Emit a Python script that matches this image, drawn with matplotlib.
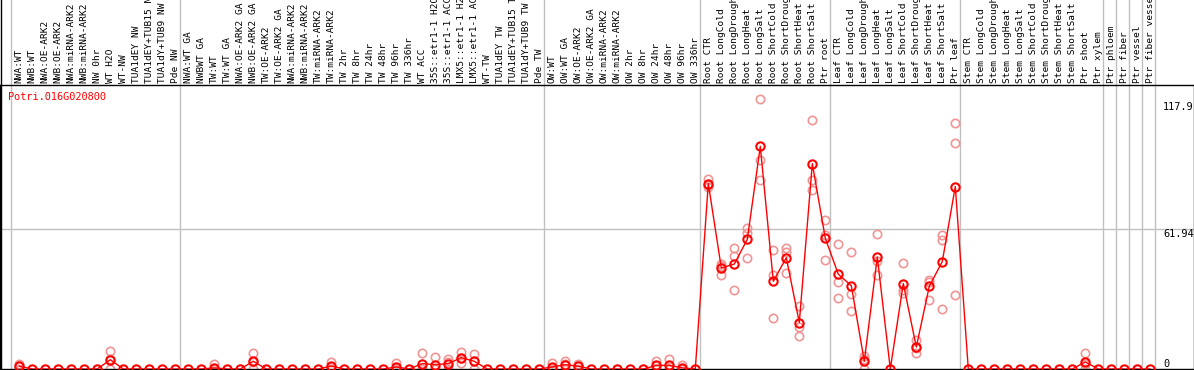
import matplotlib
matplotlib.use("Agg")
import matplotlib.pyplot as plt
import matplotlib.transforms as mtransforms

# sample labels (in plot order)
labels = [
    "NWA:WT", "NWB:WT", "NWA:OE-ARK2", "NWB:OE-ARK2", "NWA:miRNA-ARK2", "NWB:miRNA-ARK2",
    "NW 0hr", "WT H2O", "WT-NW", "TUA1dEY NW", "TUA1dEY+TUB15 NW", "TUA1dY+TUB9 NW", "Pde NW",
    "NWA:WT GA", "NWBWT GA", "TW:WT", "TW:WT GA", "NWA:OE-ARK2 GA", "NWB:OE-ARK2 GA",
    "TW:OE-ARK2", "TW:OE-ARK2 GA", "NWA:miRNA-ARK2", "NWB:miRNA-ARK2", "TW:miRNA-ARK2",
    "TW:miRNA-ARK2", "TW 2hr", "TW 8hr", "TW 24hr", "TW 48hr", "TW 96hr", "TW 336hr",
    "WT ACC", "35S::etr1-1 H2O", "35S::etr1-1 ACC", "LMX5::etr1-1 H2O", "LMX5::etr1-1 ACC",
    "WT-TW", "TUA1dEY TW", "TUA1dEY+TUB15 TW", "TUA1dY+TUB9 TW", "Pde TW",
    "OW:WT", "OW:WT GA", "OW:OE-ARK2", "OW:OE-ARK2 GA", "OW:miRNA-ARK2", "OW:miRNA-ARK2",
    "OW 2hr", "OW 8hr", "OW 24hr", "OW 48hr", "OW 96hr", "OW 336hr",
    "Root CTR", "Root LongCold", "Root LongDrought", "Root LongHeat", "Root LongSalt",
    "Root ShortCold", "Root ShortDrought", "Root ShortHeat", "Root ShortSalt", "Ptr root",
    "Leaf CTR", "Leaf LongCold", "Leaf LongDrought", "Leaf LongHeat", "Leaf LongSalt",
    "Leaf ShortCold", "Leaf ShortDrought", "Leaf ShortHeat", "Leaf ShortSalt", "Ptr leaf",
    "Stem CTR", "Stem LongCold", "Stem LongDrought", "Stem LongHeat", "Stem LongSalt",
    "Stem ShortCold", "Stem ShortDrought", "Stem ShortHeat", "Stem ShortSalt", "Ptr shoot",
    "Ptr xylem", "Ptr phloem", "Ptr fiber", "Ptr vessel", "Ptr fiber vessel",
]

# mean expression per sample
means = [
    1.2, 0, 0, 0, 0, 0, 0, 4.1, 0, 0, 0, 0, 0,
    0, 0, 0.5, 0, 0, 3.4, 0, 0, 0, 0, 0, 1.3, 0, 0, 0, 0, 0.9, 0,
    2.4, 1.9, 2.4, 5.0, 3.4, 0, 0, 0, 0, 0,
    0.9, 1.9, 1.2, 0, 0, 0, 0, 0, 1.6, 1.6, 0.5, 0,
    81.8, 44.6, 46.3, 57.2, 98.2, 38.7, 49.1, 20.5, 90.6, 57.7,
    41.8, 36.8, 3.4, 49.4, 0, 37.7, 9.7, 36.5, 47.4, 80.5,
    0, 0, 0, 0, 0, 0, 0, 0, 0, 3.1, 0,
    0, 0, 0, 0,
]

# replicate values (non-zero samples only)
replicates = {
    0: [2.4, 1.2, 0], 7: [7.9, 4.4, 0], 15: [2.4, 0, 0], 18: [7.2, 3.0, 0],
    24: [3.1, 0.8, 0], 29: [2.8, 0, 0], 31: [7.2, 0, 0], 32: [5.3, 0.5, 0],
    33: [4.3, 2.9, 0], 34: [7.5, 2.8, 4.7], 35: [6.8, 3.4, 0],
    41: [2.8, 0, 0], 42: [3.6, 2.1, 0], 43: [2.1, 1.5, 0], 49: [3.6, 1.2, 0],
    50: [4.6, 0.2, 0], 51: [1.9, 0, 0],
    53: [84.0, 80.3, 81.0], 54: [46.2, 41.6, 45.5], 55: [53.5, 49.7, 35.0],
    56: [62.4, 60.2, 49.1], 57: [119.3, 92.1, 83.2], 58: [52.4, 41.3, 22.4],
    59: [53.4, 51.8, 42.5], 60: [27.7, 18.5, 14.7], 61: [110.0, 83.5, 78.8],
    62: [65.6, 59.0, 48.3], 63: [55.0, 38.4, 31.5], 64: [51.8, 33.3, 25.5],
    65: [5.6, 4.6, 0], 66: [59.4, 47.5, 41.3], 68: [46.6, 33.5, 35.0],
    69: [12.7, 7.1, 9.3], 70: [39.4, 30.6, 38.5], 71: [59.3, 57.1, 26.3],
    72: [108.7, 99.9, 32.5], 82: [7.2, 2.1, 0],
}

# group boundaries: gray line drawn after these sample indices
group_ends = [-1, 12, 40, 52, 62, 72, 83, 84, 85, 86, 87]

gene_id = "Potri.016G020800"
ytick_vals = [117.9, 61.94, 0]

W, H = 1194, 370
fig = plt.figure(figsize=(W / 100, H / 100), dpi=100)
plot_top = 85
ax = fig.add_axes([0, 1 / H, 1, (369 - plot_top) / H])

x = list(range(len(labels)))
ax.set_xlim(-19.3 / 13, (W - 19.3) / 13)
ax.set_ylim(0, (369 - plot_top) / 2.267)

mono = "DejaVu Sans Mono"

# group separators extend up through the label area
for g in group_ends:
    ax.axvline(g + 0.38, ymin=0, ymax=369 / (369 - plot_top), color="#c0c0c0",
               lw=1, clip_on=False, zorder=1)
ax.axhline(61.94, color="#c0c0c0", lw=1, zorder=1)

rx, ry = [], []
for i, vals in replicates.items():
    for v in vals:
        rx.append(i)
        ry.append(v)
ax.plot(rx, ry, "o", ms=6, mfc="none", mec="#f09595", mew=1.2, zorder=2)

ax.plot(x, means, "-", color="red", lw=1, zorder=3)
ax.plot(x, means, "o", ms=6, mfc="none", mec="red", mew=1.5, zorder=4)

for spine in ax.spines.values():
    spine.set_color("black")
    spine.set_linewidth(1)
ax.set_xticks([])
ax.set_yticks([])

# rotated sample labels above the plot
trans = mtransforms.blended_transform_factory(ax.transData, ax.transAxes)
label_y = 1 + 2 / (369 - plot_top)
for i, lab in enumerate(labels):
    ax.text(i, label_y, lab, rotation=90, ha="center", va="bottom", transform=trans,
            fontsize=6.8, family=mono, color="black", clip_on=False)

# value labels on the right
trans_y = mtransforms.blended_transform_factory(ax.transAxes, ax.transData)
for v in ytick_vals:
    txt = f"{v:g}"
    ax.text(1163 / W, v, txt, transform=trans_y, ha="left",
            va="bottom" if v == 0 else "top", fontsize=7.4, family=mono,
            color="black", clip_on=False)

fig.text(8 / W, 1 - 97 / H, gene_id, color="red", fontsize=7.4, family=mono,
         ha="left", va="center")

# left border line through the label area
fig.add_artist(plt.Line2D([0.5 / W, 0.5 / W], [0, 1], color="black", lw=1))

fig.savefig("out.png", dpi=100)
